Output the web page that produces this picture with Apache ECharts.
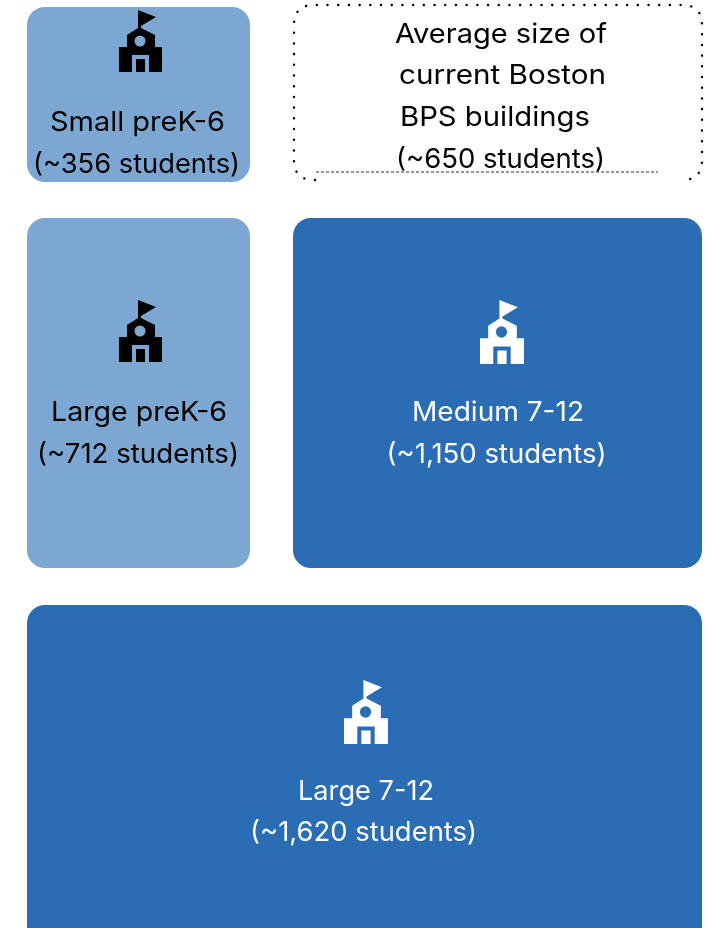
<!DOCTYPE html>
<html>
<head>
<meta charset="utf-8">
<title>BPS school sizes</title>
<style>
  html, body { margin: 0; padding: 0; background: #fff; }
  #chart { width: 713px; height: 928px; }
</style>
<script src="https://cdn.jsdelivr.net/npm/echarts@6/dist/echarts.min.js"></script>
</head>
<body>
<div id="chart"></div>
<script>
// data
const tileNames = ["Small preK-6", "Large preK-6", "Medium 7-12", "Large 7-12"];
const tileStudents = ["356", "712", "1,150", "1,620"];
const averageLines = ["Average size of", "current Boston", "BPS buildings"];
const averageStudents = ["650"];

// layout: [x0, y0, x1, y1] on the hidden pixel axes
const tileBoxes = [
  [27, 7, 250, 182],
  [27, 218, 250, 568],
  [293, 218, 702, 568],
  [27, 605, 702, 945],
];
const iconSpots = [[119, 10, 43, 62], [119, 300, 43, 62], [480, 300, 44, 64], [344, 680, 44, 64]];
// name centre x, students centre x, name y, students y, name width, students width
const labelSpots = [
  [137.5, 136.5, 123, 165, 175, 207],
  [139, 138, 413, 455, 176, 202],
  [498, 496.5, 413, 455, 172, 220],
  [366, 363.5, 792, 833, 136, 227],
];
// centre x, y, width
const averageSpots = [[501, 35, 212], [502.5, 76, 207], [495, 118, 190], [500.5, 160, 209]];

const lightBlue = "#7da7d3";
const darkBlue = "#2a6db5";
const tileFill = [lightBlue, lightBlue, darkBlue, darkBlue];
const inkColor = ["#000", "#000", "#fff", "#fff"];
const fontFamily = "Inter, 'Noto Sans', sans-serif";
const fontCss = "27px " + fontFamily;

const schoolIcon =
  "M19 0 L37 7 L22 16 L22 18 L36 25 L36 37 L43 37 L43 62 L30 62 L30 45 L13 45 L13 62 L0 62 L0 37 L8 37 L8 25 L19 18 Z " +
  "M17 49 L26 49 L26 62 L17 62 Z " +
  "M26.5 31 A5.5 5.5 0 0 0 15.5 31 A5.5 5.5 0 0 0 26.5 31 Z";

const measure = document.createElement("canvas").getContext("2d");

// the reference face is wider than Inter, so each line is stretched to its width
const textAt = (api, x, y, text, fill, width) => {
  const p = api.coord([x, y]);
  measure.font = fontCss;
  return {
    type: "text",
    x: p[0],
    y: p[1],
    scaleX: width / measure.measureText(text).width,
    style: {
      text,
      fill,
      font: fontCss,
      textAlign: "center",
      textVerticalAlign: "middle",
    },
  };
};

const renderTile = (params, api) => {
  const i = api.value(0);
  const box = tileBoxes[i];
  const a = api.coord([box[0], box[1]]);
  const b = api.coord([box[2], box[3]]);
  const icon = iconSpots[i];
  const iconAt = api.coord([icon[0], icon[1]]);
  const spot = labelSpots[i];
  return {
    type: "group",
    children: [
      {
        type: "rect",
        shape: { x: a[0], y: a[1], width: b[0] - a[0], height: b[1] - a[1], r: 18 },
        style: { fill: tileFill[i] },
      },
      {
        type: "path",
        shape: { pathData: schoolIcon, x: iconAt[0], y: iconAt[1], width: icon[2], height: icon[3], layout: "cover" },
        style: { fill: inkColor[i] },
      },
      textAt(api, spot[0], spot[2], tileNames[i], inkColor[i], spot[4]),
      textAt(api, spot[1], spot[3], "(~" + tileStudents[i] + " students)", inkColor[i], spot[5]),
    ],
  };
};

const renderAverage = (params, api) => {
  const lines = averageLines.concat(["(~" + averageStudents[0] + " students)"]);
  return {
    type: "group",
    children: [
      {
        // open along the bottom, where the dashed rule takes over
        type: "path",
        shape: {
          pathData:
            "M315 180 L314 180 Q294 180 294 160 L294 25 Q294 5 314 5 L682 5 Q702 5 702 25 L702 160 Q702 180 682 180",
          x: 294, y: 5, width: 408, height: 175, layout: "cover",
        },
        style: { fill: null, stroke: "#000", lineWidth: 2.4, lineCap: "round", lineDash: [0.1, 10.6] },
      },
      {
        type: "line",
        shape: { x1: 316, y1: 172, x2: 658, y2: 172 },
        style: { stroke: "#333", lineWidth: 1, lineDash: [3, 2] },
      },
    ].concat(lines.map((t, k) => textAt(api, averageSpots[k][0], averageSpots[k][1], t, "#000", averageSpots[k][2]))),
  };
};

const chart = echarts.init(document.getElementById("chart"), null, { renderer: "canvas" });
chart.setOption({
  animation: false,
  backgroundColor: "#fff",
  tooltip: { show: false },
  grid: { left: 0, right: 0, top: 0, bottom: 0 },
  xAxis: { type: "value", min: 0, max: 713, show: false },
  yAxis: { type: "value", min: 0, max: 928, inverse: true, show: false },
  series: [
    {
      type: "custom",
      renderItem: renderTile,
      clip: false,
      silent: true,
      encode: { x: 0 },
      data: tileNames.map((n, i) => [i]),
    },
    {
      type: "custom",
      renderItem: renderAverage,
      clip: false,
      silent: true,
      encode: { x: 0 },
      data: [[0]],
    },
  ],
});
</script>
</body>
</html>
